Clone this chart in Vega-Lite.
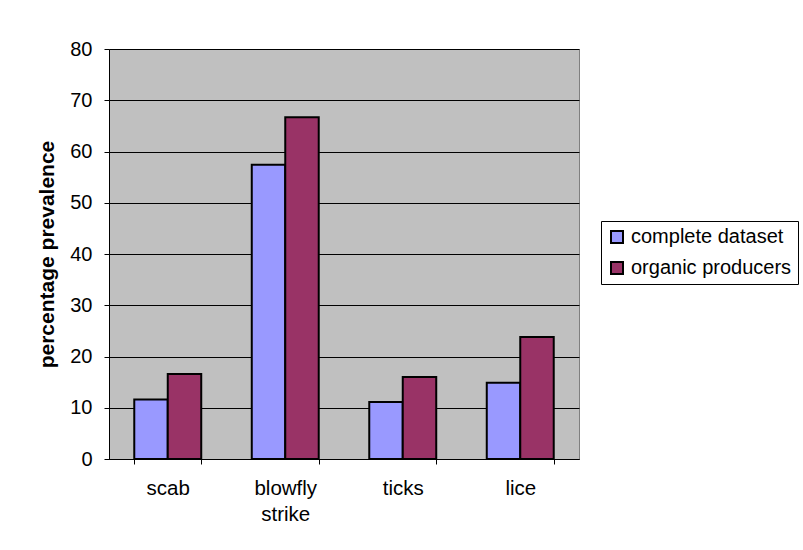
{
  "$schema": "https://vega.github.io/schema/vega-lite/v6.json",
  "autosize": {"type": "none"},
  "width": 470,
  "height": 410,
  "padding": {"left": 109, "top": 49, "right": 224, "bottom": 91},
  "background": "white",
  "data": {
    "values": [
      {"parasite": "scab", "group": "complete dataset", "pct": 11.6},
      {"parasite": "scab", "group": "organic producers", "pct": 16.6},
      {"parasite": "blowfly strike", "group": "complete dataset", "pct": 57.4},
      {"parasite": "blowfly strike", "group": "organic producers", "pct": 66.7},
      {"parasite": "ticks", "group": "complete dataset", "pct": 11.1},
      {"parasite": "ticks", "group": "organic producers", "pct": 16.0},
      {"parasite": "lice", "group": "complete dataset", "pct": 14.9},
      {"parasite": "lice", "group": "organic producers", "pct": 23.8}
    ]
  },
  "mark": {"type": "bar", "stroke": "black", "strokeWidth": 2},
  "encoding": {
    "x": {
      "field": "parasite",
      "type": "nominal",
      "sort": ["scab", "blowfly strike", "ticks", "lice"],
      "scale": {"paddingInner": 0.43, "paddingOuter": 0.215},
      "axis": {
        "title": null,
        "labelAngle": 0,
        "labelFont": "Liberation Sans",
        "labelFontSize": 20.5,
        "labelColor": "black",
        "labelPadding": 14,
        "labelLineHeight": 26,
        "labelExpr": "datum.label == 'blowfly strike' ? ['blowfly', 'strike'] : datum.label",
        "tickBand": "extent",
        "tickSize": 5,
        "tickColor": "black",
        "domainColor": "black",
        "grid": false
      }
    },
    "xOffset": {
      "field": "group",
      "type": "nominal",
      "sort": ["complete dataset", "organic producers"],
      "scale": {"paddingInner": 0, "paddingOuter": 0}
    },
    "y": {
      "field": "pct",
      "type": "quantitative",
      "scale": {"domain": [0, 80], "nice": false},
      "axis": {
        "title": "percentage prevalence",
        "titleFont": "Liberation Sans",
        "titleFontSize": 21,
        "titleFontWeight": "bold",
        "titleColor": "black",
        "titlePadding": 12,
        "values": [0, 10, 20, 30, 40, 50, 60, 70, 80],
        "labelFont": "Liberation Sans",
        "labelFontSize": 20,
        "labelColor": "black",
        "labelPadding": 12,
        "tickSize": 5,
        "tickColor": "black",
        "domainColor": "black",
        "grid": true,
        "gridColor": "black",
        "gridOpacity": 1
      }
    },
    "color": {
      "field": "group",
      "type": "nominal",
      "sort": ["complete dataset", "organic producers"],
      "scale": {"domain": ["complete dataset", "organic producers"], "range": ["#9999FF", "#993366"]},
      "legend": {
        "title": null,
        "orient": "none",
        "legendX": 492,
        "legendY": 172,
        "symbolType": "square",
        "symbolSize": 144,
        "symbolStrokeColor": "black",
        "symbolStrokeWidth": 2,
        "symbolOpacity": 1,
        "labelFont": "Liberation Sans",
        "labelFontSize": 20,
        "labelColor": "black",
        "labelLimit": 400,
        "labelOffset": 4,
        "rowPadding": 11,
        "padding": 6,
        "strokeColor": "black",
        "fillColor": "white",
        "cornerRadius": 0
      }
    }
  },
  "config": {
    "view": {"fill": "#C0C0C0", "stroke": "#808080", "strokeWidth": 1}
  }
}
